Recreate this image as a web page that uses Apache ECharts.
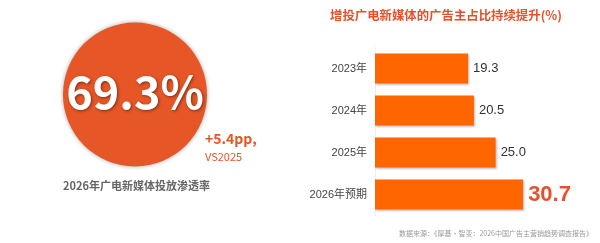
<!DOCTYPE html>
<html><head><meta charset="utf-8">
<script src="https://cdn.jsdelivr.net/npm/echarts@6/dist/echarts.min.js"></script>
<style>html,body{margin:0;padding:0;background:#fff}#c{width:600px;height:243px}</style>
</head><body><div id="c"></div>
<script>
const categories = ['2023年', '2024年', '2025年', '2026年预期'];
const values = [19.3, 20.5, 25.0, 30.7];
const kpiValue = '69.3%';
const kpiDelta = '+5.4pp,';
const kpiCompare = 'VS2025';
const kpiCaption = '2026年广电新媒体投放渗透率';
const chartTitle = '增投广电新媒体的广告主占比持续提升(%)';
const sourceText = '数据来源：《厚基·智变：2026中国广告主营销趋势调查报告》';

const FONT = '"Noto Sans CJK SC","Noto Sans",sans-serif';
const chart = echarts.init(document.getElementById('c'));
const last = values.length - 1;
chart.setOption({
  animation: false,
  textStyle: { fontFamily: FONT },
  title: {
    text: chartTitle, left: 325, top: 4,
    textStyle: { color: '#E8502A', fontSize: 12.4, fontWeight: 'bold', fontFamily: FONT }
  },
  grid: { left: 375, top: 47.5, width: 193, height: 168, containLabel: false },
  xAxis: { type: 'value', min: 0, max: 40, show: false },
  yAxis: {
    type: 'category', data: categories, inverse: true,
    axisLine: { show: true, lineStyle: { color: '#eeeeee', width: 1 } },
    axisTick: { show: false },
    axisLabel: { color: '#444', fontSize: 11, margin: 8, fontFamily: 'Liberation Sans, Arial, ' + FONT }
  },
  series: [{
    type: 'bar', barWidth: 30,
    data: values.map((v, i) => ({
      value: v,
      label: i === last ? { fontSize: 22, fontWeight: 'bold', color: '#E8502A' } : {}
    })),
    itemStyle: { color: '#FF6600', shadowColor: 'rgba(0,0,0,0.25)', shadowBlur: 2, shadowOffsetX: 1, shadowOffsetY: 1 },
    label: {
      show: true, position: 'right', distance: 5, color: '#333', fontSize: 13,
      fontFamily: 'Liberation Sans, Arial, sans-serif',
      formatter: p => p.value.toFixed(1)
    }
  }],
  graphic: [
    { type: 'circle', shape: { cx: 135, cy: 94.5, r: 72 },
      style: { fill: '#E65626', shadowColor: 'rgba(0,0,0,0.35)', shadowBlur: 4 } },
    { type: 'text', x: 135, y: 92,
      style: { text: kpiValue, fill: '#fff', font: 'bold 45px ' + FONT, align: 'center', verticalAlign: 'middle',
               textShadowColor: 'rgba(0,0,0,0.45)', textShadowBlur: 3, textShadowOffsetX: 1, textShadowOffsetY: 1 } },
    { type: 'text', x: 205, y: 139,
      style: { text: kpiDelta, fill: '#E65626', font: 'bold 14px ' + FONT, verticalAlign: 'middle' } },
    { type: 'text', x: 205, y: 157,
      style: { text: kpiCompare, fill: '#E65626', font: '11px ' + FONT, verticalAlign: 'middle' } },
    { type: 'text', x: 63, y: 186,
      style: { text: kpiCaption, fill: '#666', font: 'bold 11px ' + FONT, verticalAlign: 'middle' } },
    { type: 'text', x: 593, y: 233,
      style: { text: sourceText, fill: '#999', font: '7px ' + FONT, align: 'right', verticalAlign: 'middle' } }
  ]
});
</script></body></html>
